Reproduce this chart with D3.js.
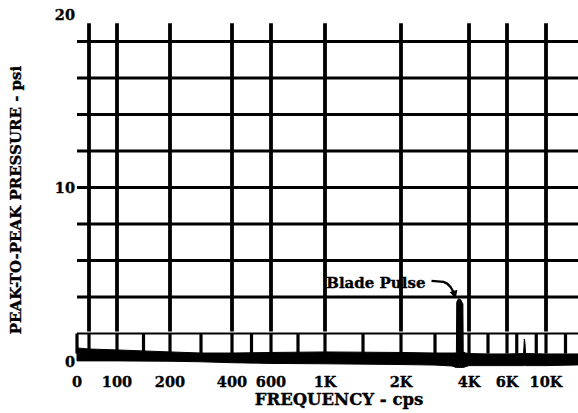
<!DOCTYPE html>
<html>
<head>
<meta charset="utf-8">
<script src="https://cdn.jsdelivr.net/npm/d3@7"></script>
<style>
  html, body { margin: 0; padding: 0; background: #fff; }
  svg { display: block; }
  text { font-family: "DejaVu Serif", "Liberation Serif", serif; font-weight: bold; fill: #000;
         stroke: #000; stroke-width: 0.35px; }
</style>
</head>
<body>
<svg id="chart" width="578" height="413"></svg>
<script>
// Frequency axis (cps): labelled ticks and their text
const freqTicks  = [0, 100, 200, 400, 600, 1000, 2000, 4000, 6000, 10000];
const freqLabels = ["0", "100", "200", "400", "600", "1K", "2K", "4K", "6K", "10K"];
// Heavy vertical grid lines (cps)
const gridFreqs = [30, 100, 200, 400, 600, 1000, 2000, 4000, 6000, 10000];
// Short marker lines in the strip just above the trace (cps)
const markerFreqs = [0, 30, 100, 150, 200, 300, 400, 500, 600, 800, 1000, 1500,
                     2000, 3000, 4000, 5000, 6000, 7000, 9000, 10000, 12000];

// Pressure axis (psi)
const psiTicks = [0, 10, 20];
const psiGrid  = [4, 6, 8, 10, 12, 14, 16, 18];
const psiStrip = 2;          // thin line closing the marker strip
const gridTop  = 19;         // vertical grid lines run up to here
const markerBottom = 0.9;    // marker lines run down into the trace

// Spectrum trace: frequency (cps), upper and lower edge of the trace (psi)
const traceFreq = [0, 30, 100, 200, 300, 400, 600, 1000, 2000, 3000, 3500, 3620,
                   3630, 3640, 3690, 3750, 3820, 3830, 3900, 4000, 5000, 6000,
                   7700, 7780, 7850, 7900, 10000, 13400];
const traceHigh = [1.21, 1.15, 1.10, 0.99, 0.93, 0.93, 0.96, 0.99, 0.96, 0.93, 0.93, 0.93,
                   1.00, 3.72, 3.90, 3.86, 3.62, 1.00, 0.93, 0.90, 0.88, 0.88,
                   0.90, 1.70, 1.45, 0.90, 0.88, 0.88];
const traceLow  = [0.50, 0.50, 0.50, 0.48, 0.45, 0.40, 0.36, 0.34, 0.30, 0.27, 0.22, 0.14,
                   0.14, 0.14, 0.14, 0.14, 0.14, 0.14, 0.18, 0.24, 0.24, 0.24,
                   0.24, 0.24, 0.24, 0.24, 0.24, 0.28];

const annotation = "Blade Pulse";
const xTitle = "FREQUENCY - cps";
const yTitle = "PEAK-TO-PEAK PRESSURE - psi";

// ---- scales -------------------------------------------------------------
// The analyser's frequency axis is neither linear nor logarithmic, so it is
// calibrated piecewise at each labelled frequency.
const x = d3.scaleLinear()
  .domain(freqTicks)
  .range([77, 117, 170, 232, 271, 325, 401, 469, 507, 546]);
const y = d3.scaleLinear().domain([0, 20]).range([370, 5]);

const svg = d3.select("#chart");
const W = +svg.attr("width");

// ---- horizontal grid ----------------------------------------------------
svg.append("g").selectAll("line").data(psiGrid).join("line")
  .attr("x1", x(0)).attr("x2", W)
  .attr("y1", d => y(d)).attr("y2", d => y(d))
  .attr("stroke", "#000").attr("stroke-width", 3.2);

svg.append("line")
  .attr("x1", x(0)).attr("x2", W)
  .attr("y1", y(psiStrip)).attr("y2", y(psiStrip))
  .attr("stroke", "#000").attr("stroke-width", 2);

// ---- vertical grid ------------------------------------------------------
svg.append("g").selectAll("line").data(gridFreqs).join("line")
  .attr("x1", d => x(d)).attr("x2", d => x(d))
  .attr("y1", y(gridTop)).attr("y2", y(psiStrip) - 2)
  .attr("stroke", "#000").attr("stroke-width", 3.8);

// ---- marker strip -------------------------------------------------------
svg.append("g").selectAll("line").data(markerFreqs).join("line")
  .attr("x1", d => x(d)).attr("x2", d => x(d))
  .attr("y1", y(psiStrip)).attr("y2", y(markerBottom))
  .attr("stroke", "#000").attr("stroke-width", 3.2);

// ---- spectrum trace -----------------------------------------------------
const trace = traceFreq.map((f, i) => ({ f, hi: traceHigh[i], lo: traceLow[i] }));
const area = d3.area()
  .x(d => x(d.f))
  .y0(d => y(d.lo))
  .y1(d => y(d.hi))
  .curve(d3.curveLinear);
svg.append("path").datum(trace)
  .attr("d", area)
  .attr("fill", "#000").attr("stroke", "#000").attr("stroke-width", 1)
  .attr("stroke-linejoin", "round");

// ---- blade pulse annotation --------------------------------------------
const peak = trace.reduce((a, b) => (b.hi > a.hi ? b : a));
const px = x(peak.f), py = y(peak.hi);

svg.append("defs").append("marker")
  .attr("id", "head")
  .attr("viewBox", "0 0 10 10")
  .attr("refX", 9).attr("refY", 5)
  .attr("markerWidth", 9).attr("markerHeight", 8)
  .attr("markerUnits", "userSpaceOnUse")
  .attr("orient", "auto")
  .append("path").attr("d", "M0,0 L10,5 L0,10 Z").attr("fill", "#000");

svg.append("text")
  .attr("x", px - 33).attr("y", py - 11)
  .attr("text-anchor", "end")
  .style("font-size", "15px")
  .text(annotation);

svg.append("path")
  .attr("d", `M${px - 27},${py - 18} L${px - 15},${py - 17} Q${px - 7},${py - 15} ${px - 3},${py - 1}`)
  .attr("fill", "none").attr("stroke", "#000").attr("stroke-width", 2.4)
  .attr("marker-end", "url(#head)");

// ---- axis labels --------------------------------------------------------
svg.append("g").selectAll("text").data(freqTicks).join("text")
  .attr("x", d => x(d))
  .attr("y", 387)
  .attr("text-anchor", "middle")
  .style("font-size", "14.5px")
  .text((d, i) => freqLabels[i]);

// tick labels sit slightly inside the plotted range at both ends
const yNudge = v => (v === 0 ? -3 : v === 20 ? 15 : 5);
svg.append("g").selectAll("text").data(psiTicks).join("text")
  .attr("x", 75)
  .attr("y", d => y(d) + yNudge(d))
  .attr("text-anchor", "end")
  .style("font-size", "14.5px")
  .text(d => d);

svg.append("text")
  .attr("x", 339).attr("y", 405)
  .attr("text-anchor", "middle")
  .style("font-size", "16.5px")
  .text(xTitle);

svg.append("text")
  .attr("transform", "translate(21,200) rotate(-90)")
  .attr("text-anchor", "middle")
  .style("font-size", "15px")
  .text(yTitle);
</script>
</body>
</html>
